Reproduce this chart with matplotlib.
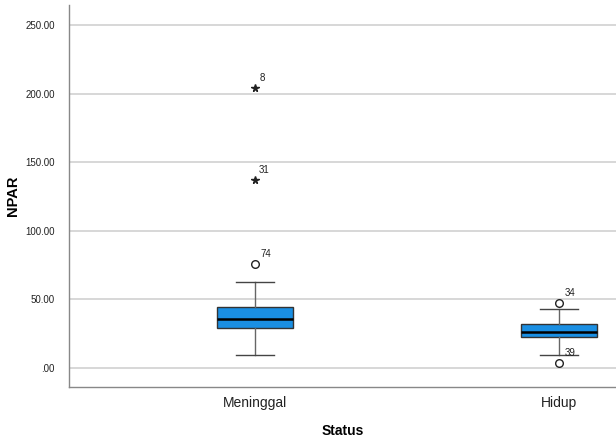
import matplotlib
matplotlib.use("Agg")
import matplotlib.pyplot as plt
from matplotlib.ticker import FuncFormatter

# =========================
# DATA
# =========================
groups = ["Meninggal", "Hidup"]
whislo = [9.7, 9.7]
q1 = [29.2, 22.4]
med = [35.7, 26.0]
q3 = [44.2, 31.8]
whishi = [62.9, 42.8]

# outliers (circle) and extremes (star), with case numbers
outlier_group = [0, 1, 1]
outlier_value = [75.6, 47.2, 3.4]
outlier_case = ["74", "34", "39"]

extreme_group = [0, 0]
extreme_value = [203.9, 137.0]
extreme_case = ["8", "31"]

yticks = [0, 50, 100, 150, 200, 250]

# =========================
# PLOT
# =========================
plt.rcParams["font.family"] = ["Liberation Sans", "DejaVu Sans"]

fig = plt.figure(figsize=(6.16, 4.41), dpi=100)
ax = fig.add_axes([0.1117, 0.1231, 0.8883, 0.8656])

stats = []
for i, g in enumerate(groups):
    stats.append({"label": g, "whislo": whislo[i], "q1": q1[i], "med": med[i],
                  "q3": q3[i], "whishi": whishi[i], "fliers": []})

ax.bxp(stats, positions=range(len(groups)), widths=0.248, patch_artist=True,
       showfliers=False, capwidths=0.125,
       boxprops=dict(facecolor="#1a8fe3", edgecolor="#333333", linewidth=1.0),
       medianprops=dict(color="black", linewidth=1.8),
       whiskerprops=dict(color="#666666", linewidth=1.0),
       capprops=dict(color="#444444", linewidth=1.0),
       zorder=3)

for g, v, c in zip(outlier_group, outlier_value, outlier_case):
    ax.plot(g, v, marker="o", markersize=5.5, markerfacecolor="none",
            markeredgecolor="#222222", markeredgewidth=1.0, zorder=4)
    ax.annotate(c, (g, v), xytext=(4, 5), textcoords="offset points",
                fontsize=7, color="#222222")

for g, v, c in zip(extreme_group, extreme_value, extreme_case):
    ax.plot(g, v, marker="*", markersize=5.5, color="#222222", zorder=4)
    ax.annotate(c, (g, v), xytext=(3, 5), textcoords="offset points",
                fontsize=7, color="#222222")

ax.set_xlim(-0.6125, 1.1875)
ax.set_ylim(-13.6, 264.6)

ax.set_yticks(yticks)
ax.yaxis.set_major_formatter(FuncFormatter(lambda v, p: ".00" if v == 0 else f"{v:.2f}"))
ax.set_xticks(range(len(groups)))
ax.set_xticklabels(groups)

ax.tick_params(axis="y", length=0, pad=10, labelsize=7, labelcolor="#222222")
ax.tick_params(axis="x", length=0, pad=7, labelsize=10, labelcolor="#222222")

ax.yaxis.grid(True, color="#d4d4d4", linewidth=1.3)
ax.set_axisbelow(True)

for s in ["top", "right"]:
    ax.spines[s].set_visible(False)
for s in ["left", "bottom"]:
    ax.spines[s].set_color("#888888")
    ax.spines[s].set_linewidth(1.0)

ax.set_ylabel("NPAR", fontsize=10.5, fontweight="bold", labelpad=4)
ax.set_xlabel("Status", fontsize=10, fontweight="bold", labelpad=10)

fig.savefig("out.png", dpi=100)
